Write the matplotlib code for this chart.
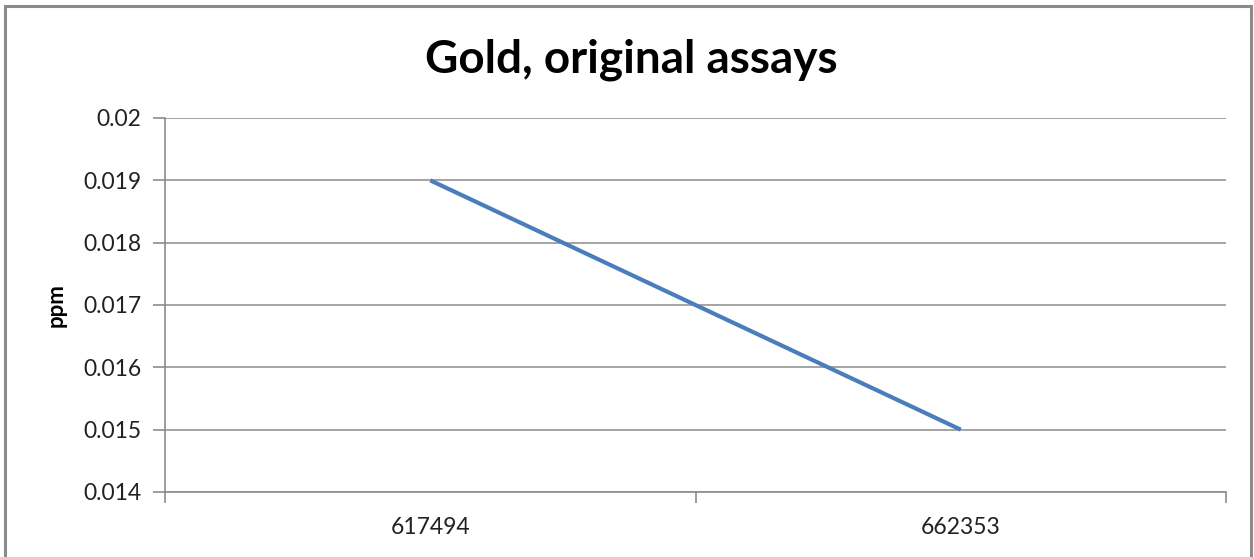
import matplotlib.pyplot as plt
from matplotlib.patches import Rectangle

# sample ids and gold values (ppm)
samples = ["617494", "662353"]
gold_ppm = [0.019, 0.015]
y_ticks = [0.014, 0.015, 0.016, 0.017, 0.018, 0.019, 0.02]
y_tick_labels = ["0.014", "0.015", "0.016", "0.017", "0.018", "0.019", "0.02"]

W, H = 1254, 557
plt.rcParams["font.family"] = ["Lato", "DejaVu Sans"]

fig = plt.figure(figsize=(W / 100, H / 100), dpi=100)
# plot area in pixel coords: x 165..1226, y 118..492
ax = fig.add_axes([165 / W, 1 - 492 / H, (1226 - 165) / W, (492 - 118) / H])

grid_c = "#8c8c8c"
x = range(len(samples))
ax.plot(x, gold_ppm, color="#4a7ebb", linewidth=3.0, solid_capstyle="butt", zorder=3)

ax.set_xlim(-0.5, len(samples) - 0.5)
ax.set_ylim(y_ticks[0], y_ticks[-1])
ax.set_yticks(y_ticks)
ax.set_yticklabels(y_tick_labels)
ax.set_xticks(list(x))
ax.set_xticklabels(samples)
# category boundary ticks sit between the labels
ax.set_xticks([-0.5, 0.5, 1.5], minor=True)
ax.tick_params(axis="x", which="major", length=0, pad=18, labelsize=16.5, labelcolor="#222222")
ax.tick_params(axis="x", which="minor", length=8, width=1.2, color=grid_c)
ax.tick_params(axis="y", length=9, width=1.2, color=grid_c, pad=8, labelsize=16.5, labelcolor="#222222")

ax.grid(axis="y", color=grid_c, linewidth=1.1)
ax.set_axisbelow(True)
for side in ["top", "right"]:
    ax.spines[side].set_visible(False)
ax.spines["left"].set_color(grid_c)
ax.spines["bottom"].set_color(grid_c)
ax.spines["left"].set_linewidth(1.2)
ax.spines["bottom"].set_linewidth(1.2)

ax.set_ylabel("ppm", fontsize=16, fontweight="bold", labelpad=12)
fig.text(631 / W, 1 - 60 / H, "Gold, original assays",
         ha="center", va="center", fontsize=33, fontweight="bold", color="black")

# outer chart border
fig.patches.append(Rectangle((5 / W, -0.05), (1251 - 5) / W, 1 - 6 / H + 0.05,
                             transform=fig.transFigure, fill=False,
                             edgecolor="#8a8a8a", linewidth=2.2))

fig.savefig("out.png", dpi=100)
